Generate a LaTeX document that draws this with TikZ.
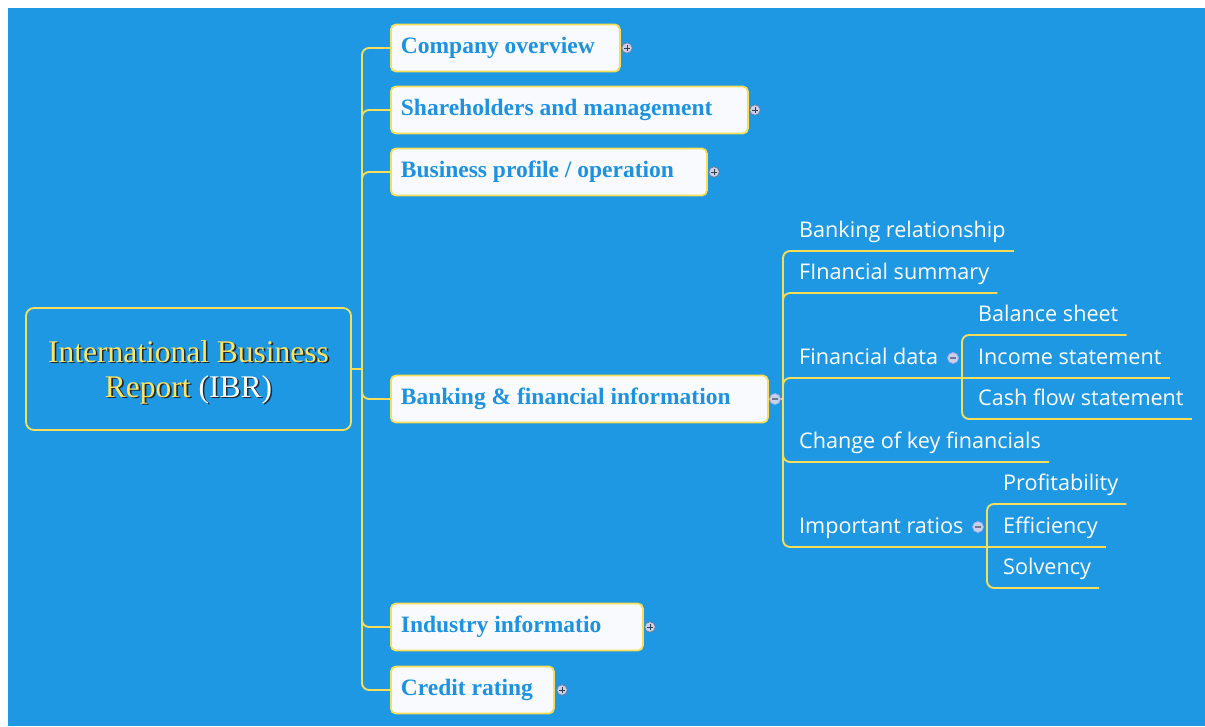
\documentclass[tikz,border=0pt]{standalone}
\usepackage{fontspec}
\setmainfont{Liberation Serif}
\newfontfamily\leaffont{Open Sans}

\definecolor{bgblue}{RGB}{30,152,226}
\definecolor{lineyellow}{RGB}{248,222,88}
\definecolor{boxfill}{RGB}{248,250,254}
\definecolor{boxtext}{RGB}{28,146,224}
\definecolor{titleyellow}{RGB}{255,228,96}
\definecolor{shadowgray}{RGB}{30,40,55}
\definecolor{markfill}{RGB}{202,208,234}
\definecolor{markdraw}{RGB}{110,120,150}

\newcommand\shtext[2]{\rlap{\kern1.6pt\raisebox{-1.6pt}{\color{shadowgray}#2}}{\color{#1}#2}}

\tikzstyle{centre} = [draw=lineyellow, line width=1.8pt, rounded corners=8pt, minimum width=325pt, minimum height=122pt, align=center, font=\fontsize{31.5}{35}\selectfont]
\tikzstyle{topic} = [draw=lineyellow, line width=1.8pt, fill=boxfill, rounded corners=5pt, anchor=west, minimum height=47pt, inner xsep=10pt, align=flush left, text=boxtext, font=\fontsize{23.5}{26}\selectfont\bfseries]
\tikzstyle{leaf} = [anchor=south west, inner xsep=8pt, inner ysep=7pt, text depth=6pt, text=white, font=\leaffont\fontsize{21.6}{24}\selectfont]
\tikzstyle{link} = [draw=lineyellow, line width=1.9pt, rounded corners=7pt]
\tikzstyle{mplus} = [circle, minimum size=10.5pt, inner sep=0pt, fill=markfill, draw=markdraw, line width=0.7pt,
  path picture={\draw[markdraw!50!black, line width=1pt]
    ([xshift=-3pt]path picture bounding box.center) -- ([xshift=3pt]path picture bounding box.center)
    ([yshift=-3pt]path picture bounding box.center) -- ([yshift=3pt]path picture bounding box.center);}]
\tikzstyle{mminus} = [circle, minimum size=11pt, inner sep=0pt, fill=markfill, draw=markfill!80!blue, line width=0.7pt,
  path picture={\draw[markdraw, line width=1.2pt]
    ([xshift=-3pt]path picture bounding box.center) -- ([xshift=3pt]path picture bounding box.center);}]

\begin{document}
\begin{tikzpicture}[x=1pt, y=-1pt]
    \useasboundingbox (0, 0) rectangle (1205, 726);
    \fill[bgblue] (8, 8) rectangle (1205, 726);

    \node[centre] (IBR) at (188.5, 369) {\rule{0pt}{30pt}\shtext{titleyellow}{International Business}\\\shtext{titleyellow}{Report} \shtext{white}{(IBR)}};
    \coordinate (S) at (362, 369);

    \node[topic, minimum width=229pt, text width=209pt] (CO) at (390, 48) {Company overview};
    \node[topic, minimum width=357pt, text width=337pt] (SM) at (390, 110) {Shareholders and management};
    \node[topic, minimum width=316pt, text width=296pt] (BP) at (390, 172) {Business profile / operation};
    \node[topic, minimum width=377pt, text width=357pt] (BF) at (390, 399) {Banking \& financial information};
    \node[topic, minimum width=252pt, text width=232pt] (II) at (390, 627) {Industry informatio};
    \node[topic, minimum width=163pt, text width=143pt] (CR) at (390, 690) {Credit rating};

    \coordinate (B) at (783, 399);
    \node[leaf] (BR) at (791, 251) {Banking relationship};
    \node[leaf] (FS) at (791, 293) {FInancial summary};
    \node[leaf] (FD) at (791, 378) {Financial data};
    \node[leaf] (CK) at (791, 462) {Change of key financials};
    \node[leaf] (IR) at (791, 547) {Important ratios};

    \coordinate (F) at (962, 378);
    \node[leaf] (BS) at (970, 335) {Balance sheet};
    \node[leaf] (IS) at (970, 378) {Income statement};
    \node[leaf] (CF) at (970, 419) {Cash flow statement};

    \coordinate (R) at (987, 547);
    \node[leaf] (PR) at (995, 504) {Profitability};
    \node[leaf] (EF) at (995, 547) {Efficiency};
    \node[leaf] (SO) at (995, 588) {Solvency};

    \draw[link] (IBR.east) -- (S);
    \draw[link] (S) |- (CO.west);
    \draw[link] (S) |- (SM.west);
    \draw[link] (S) |- (BP.west);
    \draw[link] (S) |- (BF.west);
    \draw[link] (S) |- (II.west);
    \draw[link] (S) |- (CR.west);

    \draw[link] (BF.east) -- (B);
    \draw[link] (B) |- (BR.south east);
    \draw[link] (B) |- (FS.south east);
    \draw[link] (B) |- (F);
    \draw[link] (B) |- (CK.south east);
    \draw[link] (B) |- (R);
    \draw[link] (F) |- (BS.south east);
    \draw[link] (F) -- (IS.south east);
    \draw[link] (F) |- (CF.south east);
    \draw[link] (R) |- (PR.south east);
    \draw[link] (R) -- (EF.south east);
    \draw[link] (R) |- (SO.south east);

    \node[mplus] (COm) at (627, 48) {};
    \node[mplus] (SMm) at (755, 110) {};
    \node[mplus] (BPm) at (714, 172) {};
    \node[mplus] (IIm) at (650, 627) {};
    \node[mplus] (CRm) at (562, 690) {};
    \node[mminus] (BFm) at (775, 399) {};
    \node[mminus] (FDm) at (953, 358) {};
    \node[mminus] (IRm) at (978, 527) {};
\end{tikzpicture}
\end{document}
